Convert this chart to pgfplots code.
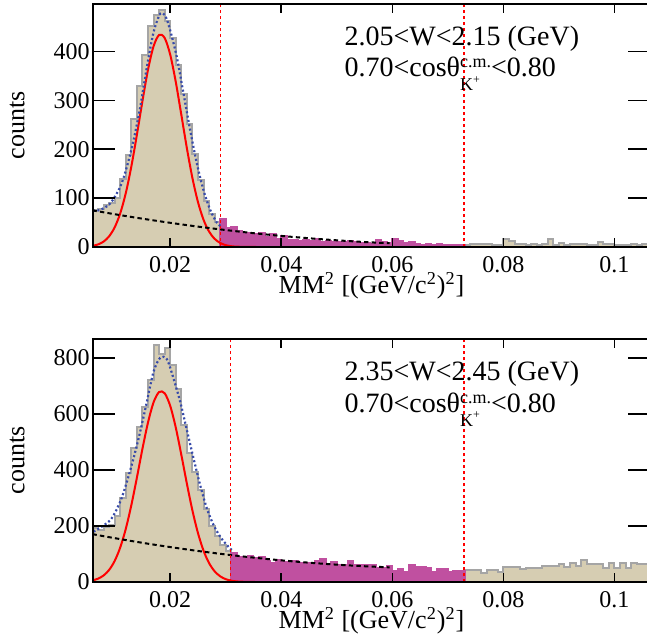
\documentclass[border=0pt]{standalone}
\usepackage{fontspec}
\setmainfont{Liberation Serif}
\usepackage{pgfplots}
\pgfplotsset{compat=1.18}

\definecolor{histtan}{RGB}{214,205,178}
\definecolor{histline}{RGB}{165,165,165}
\definecolor{sigmag}{RGB}{192,80,160}
\definecolor{fitblue}{RGB}{55,75,170}

\pgfplotsset{
  mmpanel/.style={
    scale only axis, width=278.5pt, height=121.5pt,
    anchor=south west,
    xmin=0.0061, xmax=0.1064, ymin=0,
    xtick={0.02,0.04,0.06,0.08,0.1},
    xticklabels={0.02,0.04,0.06,0.08,0.1},
    xtick pos=both, ytick pos=both,
    tick align=inside,
    major tick length=11pt,
    xtick style={/pgfplots/major tick length=4.5pt},
    tick style={black, line width=0.8pt},
    axis on top,
    axis line style={line width=0.8pt},
    tick label style={font=\fontsize{12}{12}\selectfont},
    xticklabel style={anchor=base, yshift=-12.5pt},
    yticklabel style={anchor=east, inner sep=0pt, xshift=-1.5pt},
    xlabel={MM\textsuperscript{2} [(GeV/c\textsuperscript{2})\textsuperscript{2}]},
    ylabel={counts},
    label style={font=\fontsize{13}{13}\selectfont},
    xlabel style={at={(axis description cs:0.5,-0.19)}, anchor=base},
    ylabel style={at={(axis description cs:-0.136,0.5)}, anchor=center},
  },
  hist/.style={const plot, fill=histtan, draw=histline, line width=1pt},
  sig/.style={const plot, fill=sigmag, draw=sigmag, line width=1pt},
  gaus/.style={red, line width=1pt, smooth},
  total/.style={fitblue, line width=1.1pt, dash pattern=on 1pt off 1.2pt, smooth},
  bkg/.style={black, line width=1pt, dash pattern=on 2.2pt off 1.6pt, smooth},
  cut/.style={red, line width=0.7pt, dash pattern=on 1.6pt off 1.4pt},
}
\tikzset{panel text/.style={anchor=base west, inner sep=0pt, font=\fontsize{14}{14}\selectfont}}

\newcommand{\cosline}[2]{#1<cosθ\rlap{\raisebox{-7pt}{\fontsize{9}{9}\selectfont K\textsuperscript{+}}}\raisebox{4.5pt}{\fontsize{9}{9}\selectfont c.m.}<#2}

\begin{document}
\begin{tikzpicture}

% ---- upper panel: 2.05 < W < 2.15
\begin{axis}[mmpanel, at={(46.5pt,196pt)}, ymax=497,
  ytick={0,100,200,300,400}, yticklabels={0,100,200,300,400}]

\addplot[hist] coordinates {
 (0.006,76) (0.007,77) (0.008,86) (0.009,90) (0.010,101) (0.011,140)
 (0.012,188) (0.013,262) (0.014,330) (0.015,392) (0.016,452) (0.017,474)
 (0.018,485) (0.019,462) (0.020,428) (0.021,372) (0.022,312) (0.023,252)
 (0.024,190) (0.025,138) (0.026,95) (0.027,68) (0.028,52) (0.029,57)
 (0.030,39) (0.031,41) (0.032,33) (0.033,28) (0.034,29) (0.035,26)
 (0.036,28) (0.037,21) (0.038,26) (0.039,16) (0.040,22) (0.041,14)
 (0.042,15) (0.043,13) (0.044,14) (0.045,12) (0.046,16) (0.047,11)
 (0.048,12) (0.049,10) (0.050,11) (0.051,10) (0.052,12) (0.053,11)
 (0.054,9) (0.055,8) (0.056,7) (0.057,14) (0.058,10) (0.059,9)
 (0.060,16) (0.061,12) (0.062,9) (0.063,10) (0.064,7) (0.065,5)
 (0.066,6) (0.067,5) (0.068,6) (0.069,5) (0.070,4) (0.071,4)
 (0.072,4) (0.073,5) (0.074,6) (0.075,7) (0.076,6) (0.077,7)
 (0.078,4) (0.079,4) (0.080,16) (0.081,12) (0.082,7) (0.083,6)
 (0.084,5) (0.085,6) (0.086,5) (0.087,6) (0.088,16) (0.089,5)
 (0.090,8) (0.091,5) (0.092,7) (0.093,7) (0.094,7) (0.095,5)
 (0.096,5) (0.097,11) (0.098,6) (0.099,7) (0.100,4) (0.101,4)
 (0.102,5) (0.103,6) (0.104,5) (0.105,6) (0.106,6) (0.107,6)
} \closedcycle;

\addplot[sig] coordinates {
 (0.029,57) (0.030,39) (0.031,41) (0.032,33) (0.033,28) (0.034,29)
 (0.035,26) (0.036,28) (0.037,21) (0.038,26) (0.039,16) (0.040,22)
 (0.041,14) (0.042,15) (0.043,13) (0.044,14) (0.045,12) (0.046,16)
 (0.047,11) (0.048,12) (0.049,10) (0.050,11) (0.051,10) (0.052,12)
 (0.053,11) (0.054,9) (0.055,8) (0.056,7) (0.057,14) (0.058,10)
 (0.059,9) (0.060,16) (0.061,12) (0.062,9) (0.063,10) (0.064,7)
 (0.065,5) (0.066,6) (0.067,5) (0.068,6) (0.069,5) (0.070,4)
 (0.071,4) (0.072,4) (0.073,4)
} \closedcycle;

\addplot[gaus] coordinates {
 (0.006,2.3) (0.007,5.2) (0.008,11.0) (0.009,21.8) (0.010,40.1) (0.011,68.7)
 (0.012,110.0) (0.013,164.4) (0.014,229.3) (0.015,298.3) (0.016,362.3)
 (0.017,410.3) (0.018,433.7) (0.019,427.7) (0.020,393.6) (0.021,338.0)
 (0.022,270.8) (0.023,202.4) (0.024,141.2) (0.025,92.0) (0.026,55.8)
 (0.027,31.6) (0.028,16.7) (0.029,8.3) (0.030,3.8) (0.031,1.6) (0.032,0.7)
 (0.034,0.1) (0.036,0)
};
\addplot[red, line width=1pt] coordinates {(0.036,0) (0.107,0)};

\addplot[total] coordinates {
 (0.0061,74) (0.0074,76) (0.0092,89) (0.0110,123) (0.0122,164) (0.0134,218)
 (0.0146,286) (0.0158,368) (0.0170,439) (0.0182,477) (0.0191,473)
 (0.0200,443) (0.0212,388) (0.0224,314) (0.0236,239) (0.0248,171)
 (0.0260,116) (0.0272,76) (0.0284,50) (0.0293,41)
};

\addplot[bkg] coordinates {
 (0.006,75) (0.010,67.1) (0.015,57.9) (0.020,49.5) (0.025,41.7) (0.030,34.7)
 (0.035,28.3) (0.040,22.7) (0.045,17.9) (0.050,13.7) (0.055,10.2) (0.0595,7.7)
};

\addplot[cut] coordinates {(0.0291,0) (0.0291,497)};
\addplot[cut] coordinates {(0.0729,0) (0.0729,497)};

\node[panel text] at (axis description cs:0.451,0.831) {2.05<W<2.15 (GeV)};
\node[panel text] at (axis description cs:0.451,0.700) {\cosline{0.70}{0.80}};
\end{axis}

% ---- lower panel: 2.35 < W < 2.45
\begin{axis}[mmpanel, at={(46.5pt,28.5pt)}, ymax=868,
  ytick={0,200,400,600,800}, yticklabels={0,200,400,600,800}]

\addplot[hist] coordinates {
 (0.006,194) (0.007,185) (0.008,198) (0.009,205) (0.010,235) (0.011,300)
 (0.012,390) (0.013,480) (0.014,555) (0.015,625) (0.016,720) (0.017,846)
 (0.018,815) (0.019,835) (0.020,775) (0.021,690) (0.022,560) (0.023,460)
 (0.024,394) (0.025,330) (0.026,262) (0.027,200) (0.028,165) (0.029,132)
 (0.030,112) (0.031,102) (0.032,90) (0.033,90) (0.034,93) (0.035,85)
 (0.036,88) (0.037,76) (0.038,67) (0.039,79) (0.040,73) (0.041,72)
 (0.042,74) (0.043,67) (0.044,67) (0.045,69) (0.046,74) (0.047,82)
 (0.048,61) (0.049,71) (0.050,61) (0.051,62) (0.052,75) (0.053,61)
 (0.054,60) (0.055,62) (0.056,61) (0.057,49) (0.058,50) (0.059,57)
 (0.060,40) (0.061,45) (0.062,37) (0.063,61) (0.064,55) (0.065,55)
 (0.066,49) (0.067,37) (0.068,46) (0.069,46) (0.070,37) (0.071,39)
 (0.072,38) (0.073,43) (0.074,43) (0.075,42) (0.076,33) (0.077,43)
 (0.078,43) (0.079,37) (0.080,52) (0.081,52) (0.082,52) (0.083,45)
 (0.084,51) (0.085,51) (0.086,51) (0.087,57) (0.088,57) (0.089,57)
 (0.090,63) (0.091,55) (0.092,69) (0.093,57) (0.094,79) (0.095,64)
 (0.096,64) (0.097,64) (0.098,51) (0.099,67) (0.100,49) (0.101,69)
 (0.102,49) (0.103,69) (0.104,64) (0.105,64) (0.106,64) (0.107,64)
} \closedcycle;

\addplot[sig] coordinates {
 (0.031,102) (0.032,90) (0.033,90) (0.034,93) (0.035,85) (0.036,88)
 (0.037,76) (0.038,67) (0.039,79) (0.040,73) (0.041,72) (0.042,74)
 (0.043,67) (0.044,67) (0.045,69) (0.046,74) (0.047,82) (0.048,61)
 (0.049,71) (0.050,61) (0.051,62) (0.052,75) (0.053,61) (0.054,60)
 (0.055,62) (0.056,61) (0.057,49) (0.058,50) (0.059,57) (0.060,40)
 (0.061,45) (0.062,37) (0.063,61) (0.064,55) (0.065,55) (0.066,49)
 (0.067,37) (0.068,46) (0.069,46) (0.070,37) (0.071,39) (0.072,38)
 (0.073,38)
} \closedcycle;

\addplot[gaus] coordinates {
 (0.006,5.6) (0.007,11.8) (0.008,23.2) (0.009,43.1) (0.010,75.2) (0.011,123.2)
 (0.012,189.6) (0.013,274.2) (0.014,372.4) (0.015,475.4) (0.016,569.5)
 (0.017,641.5) (0.018,678.6) (0.019,674.4) (0.020,629.5) (0.021,552.1)
 (0.022,454.9) (0.023,351.9) (0.024,255.8) (0.025,174.9) (0.026,112.2)
 (0.027,67.6) (0.028,38.3) (0.029,20.4) (0.030,10.2) (0.031,4.8) (0.032,2.1)
 (0.034,0.3) (0.036,0)
};
\addplot[red, line width=1pt] coordinates {(0.036,0) (0.107,0)};

\addplot[total] coordinates {
 (0.0062,180) (0.0092,221) (0.0110,287) (0.0122,358) (0.0134,442)
 (0.0146,537) (0.0158,644) (0.0170,751) (0.0182,801) (0.0194,796)
 (0.0206,727) (0.0218,644) (0.0230,543) (0.0242,442) (0.0254,346)
 (0.0266,263) (0.0278,204) (0.0290,162) (0.0302,132) (0.0311,114)
};

\addplot[bkg] coordinates {
 (0.006,171) (0.010,156.7) (0.015,140) (0.020,124.8) (0.025,110.9) (0.030,98.4)
 (0.035,87.2) (0.040,77.4) (0.045,69) (0.050,62) (0.055,56.3) (0.0595,52.4)
};

\addplot[cut] coordinates {(0.0309,0) (0.0309,868)};
\addplot[cut] coordinates {(0.0729,0) (0.0729,868)};

\node[panel text] at (axis description cs:0.451,0.831) {2.35<W<2.45 (GeV)};
\node[panel text] at (axis description cs:0.451,0.697) {\cosline{0.70}{0.80}};
\end{axis}

\pgfresetboundingbox
\useasboundingbox (0pt,0pt) rectangle (323.5pt,319.5pt);
\end{tikzpicture}
\end{document}
